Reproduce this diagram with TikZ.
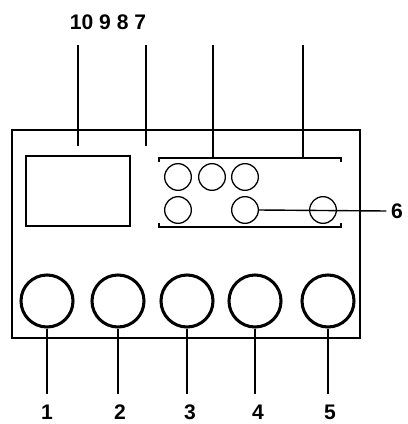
\documentclass[tikz,border=0pt]{standalone}
\usepackage{fontspec}
\setmainfont{Liberation Sans}
\usetikzlibrary{positioning}

\begin{document}
\begin{tikzpicture}[x=0.03cm,y=-0.03cm]
\tikzset{every node/.style={inner sep=0pt},
    knob/.style={shape=circle,draw,line width=2.6pt,minimum size=1.56cm},
    button/.style={shape=circle,draw,line width=1.1pt,minimum size=0.8cm},
    num/.style={font=\fontsize{18}{18}\selectfont\bfseries},
    lead/.style={line width=1.2pt}}
\useasboundingbox (0,0) rectangle (407,424);
% housing and display
\draw[lead] (12,130) rectangle (360,338);
\draw[lead] (26,156) rectangle (130,226);
% button panel brackets
\draw[lead] (159,162) -- (159,158) -- (341,158) -- (341,162);
\draw[lead] (159,223) -- (159,227) -- (341,227) -- (341,223);
% small buttons
\node[button] (s1) at (178,177) {};
\node[button] (s2) at (212,177) {};
\node[button] (s3) at (245,177) {};
\node[button] (s4) at (178,210) {};
\node[button] (s5) at (245,210) {};
\node[button] (s6) at (323,210) {};
% top labels
\node[num] (top) at (108,22) {10 9 8 7};
\coordinate (t10) at (78,45);
\coordinate (t9) at (146,45);
\coordinate (t8) at (213,45);
\coordinate (t7) at (303,45);
\draw[lead] (t10) -- (78,146);
\draw[lead] (t9) -- (146,146);
\draw[lead] (t8) -- (213,158);
\draw[lead] (t7) -- (303,158);
% label 6
\node[num,anchor=west] (l6) at (391,211) {6};
\draw[lead] (s5.east) -- ([xshift=-4]l6.west);
% knobs
\foreach \i/\x/\lx in {1/47/47,2/118/120,3/187/190,4/255/258,5/328/330} {
    \node[knob] (k\i) at (\x,301) {};
    \node[num] (n\i) at (\lx,412) {\i};
    \draw[lead] (k\i.south) -- (\x,394);
}
\end{tikzpicture}
\end{document}
